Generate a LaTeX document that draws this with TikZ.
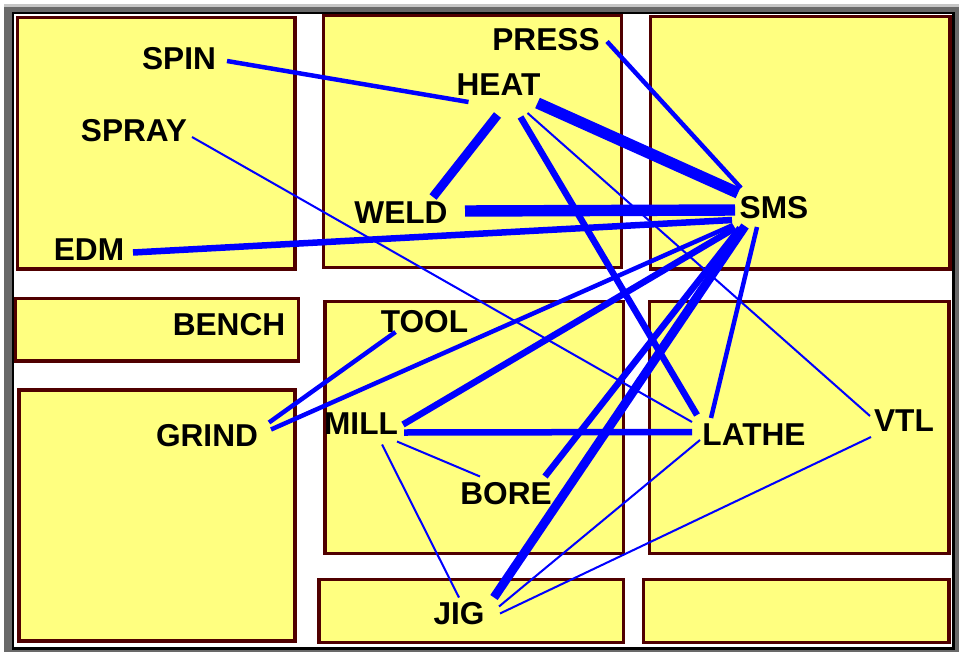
\documentclass[tikz,border=0pt]{standalone}
\usepackage{fontspec}
\setsansfont{Liberation Sans}
\usetikzlibrary{calc}

\definecolor{roomfill}{RGB}{255,255,128}
\definecolor{roomline}{RGB}{80,0,0}
\definecolor{framegray}{RGB}{105,105,105}
\definecolor{flowblue}{RGB}{0,0,255}

\tikzset{
  room/.style={draw=roomline, fill=roomfill, line width=1.8pt},
  dept/.style={font=\sffamily\bfseries\fontsize{18}{20}\selectfont,
    inner sep=0pt, text height=12.8pt, text depth=0pt},
  flowA/.style={draw=flowblue, line width=1.15pt},
  flowB/.style={draw=flowblue, line width=2.55pt},
  flowC/.style={draw=flowblue, line width=3.7pt},
  flowD/.style={draw=flowblue, line width=5.1pt},
  flowE/.style={draw=flowblue, line width=6.5pt}
}

\begin{document}
\begin{tikzpicture}[x=0.02cm, y=-0.02cm]
    \useasboundingbox (0,0) rectangle (959,652);

    % Window frame
    \fill[framegray] (4,4) rectangle (959,652);
    \draw[gray!45, line width=1.6pt] (4,5.4) -- (959,5.4);
    \draw[black, fill=white, line width=1.4pt] (13,13) rectangle (953.5,648.5);

    % Rooms, top row
    \draw[room] (17.5,17.5) rectangle (295,269);
    \draw[room] (323.5,15.5) rectangle (621.5,267.5);
    \draw[room] (650.5,16.5) rectangle (950,269);

    % Rooms, middle and bottom
    \draw[room] (15.5,298.5) rectangle (298.5,361);
    \draw[room] (19,390) rectangle (295,641);
    \draw[room] (325,301.5) rectangle (623.5,553.5);
    \draw[room] (649.5,301.5) rectangle (949,553.5);
    \draw[room] (319,579.5) rectangle (623.5,642.5);
    \draw[room] (643.5,579.5) rectangle (949,642.5);

    % Departments
    \node[dept] (spin)  at (179,58)    {SPIN};
    \node[dept] (spray) at (134,130)   {SPRAY};
    \node[dept] (edm)   at (89,249.5)  {EDM};
    \node[dept] (press) at (546,39.5)  {PRESS};
    \node[dept] (heat)  at (498.5,84)  {HEAT};
    \node[dept] (weld)  at (401,212)   {WELD};
    \node[dept] (sms)   at (774,207)   {SMS};
    \node[dept] (bench) at (229,324)   {BENCH};
    \node[dept] (tool)  at (424.5,321) {TOOL};
    \node[dept] (grind) at (207,435.5) {GRIND};
    \node[dept] (mill)  at (361,423.5) {MILL};
    \node[dept] (lathe) at (754,434)   {LATHE};
    \node[dept] (vtl)   at (904,420)   {VTL};
    \node[dept] (bore)  at (506,493.5) {BORE};
    \node[dept] (jig)   at (459,613.5) {JIG};

    % Flows out of HEAT
    \draw[flowB] ($(spin)+(48,3)$) -- ($(heat)+(-30,18)$);
    \draw[flowD] ($(heat)+(-1,31)$) -- ($(weld)+(32,-15)$);
    \draw[flowE] ($(heat)+(39,19)$) -- ($(sms)+(-36,-14)$);
    \draw[flowC] ($(heat)+(22,33)$) -- ($(lathe)+(-57,-19)$);
    \draw[flowA] ($(heat)+(29,29)$) -- ($(vtl)+(-34,-4)$);

    % Flows into SMS
    \draw[flowB] ($(press)+(61,2)$) -- ($(sms)+(-33,-19)$);
    \draw[flowE] ($(weld)+(64,-1)$) -- ($(sms)+(-39,3)$);
    \draw[flowC] ($(edm)+(44,3)$) -- ($(sms)+(-42,13)$);
    \draw[flowB] ($(sms)+(-41,18)$) -- ($(grind)+(64,-6)$);
    \draw[flowC] ($(sms)+(-39,21)$) -- ($(mill)+(42,1)$);
    \draw[flowC] ($(sms)+(-34,21)$) -- ($(bore)+(39,-17)$);
    \draw[flowD] ($(sms)+(-29,19)$) -- ($(jig)+(35,-16)$);
    \draw[flowB] ($(sms)+(-17,20)$) -- ($(lathe)+(-43,-16)$);

    % Remaining flows
    \draw[flowA] ($(spray)+(58,7)$) -- ($(lathe)+(-62,-12)$);
    \draw[flowB] ($(tool)+(-29,11)$) -- ($(grind)+(62,-13)$);
    \draw[flowC] ($(mill)+(43,9)$) -- ($(lathe)+(-62,-2)$);
    \draw[flowA] ($(mill)+(36,18)$) -- ($(bore)+(-26,-17)$);
    \draw[flowA] ($(mill)+(21,21)$) -- ($(jig)+(0,-16)$);
    \draw[flowA] ($(lathe)+(-54,6)$) -- ($(jig)+(40,-7)$);
    \draw[flowA] ($(vtl)+(-33,17)$) -- ($(jig)+(41,0)$);
\end{tikzpicture}
\end{document}
